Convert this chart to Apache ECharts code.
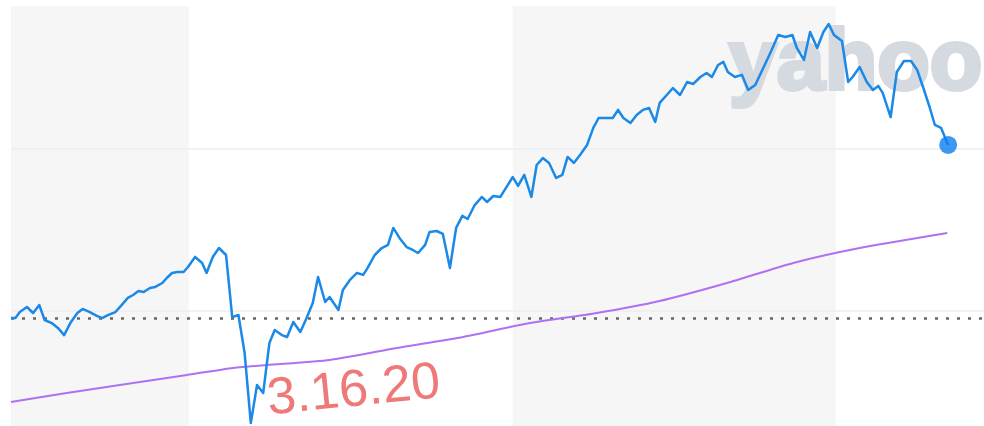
<!DOCTYPE html>
<html><head><meta charset="utf-8">
<script src="https://cdn.jsdelivr.net/npm/echarts@6/dist/echarts.min.js"></script>
<style>html,body{margin:0;padding:0;background:#fff}#c{width:984px;height:426px}</style>
</head><body><div id="c"></div>
<script>
// Start of the range (day 0); days are counted from here
const START_DATE = '2019-06-14';
// S&P 500 weekly path: day offset and close
const priceDays = [0,5,10,18,25,32,38,46,53,60,67,75,81,89,97,103,110,118,125,132,138,144,150,157,163,171,176,182,188,195,200,208,216,221,228,235,243,250,257,264,271,278,285,292,298,306,312,319,327,334,341,347,355,360,370,375,383,391,398,403,411,419,426,432,439,447,454,460,468,473,481,488,496,503,510,516,524,532,538,545,553,560,567,573,580,588,594,601,608,616,623,629,636,643,651,658,664,673,680,686,692,700,707,714,721,728,733,741,748,756,764,771,779,786,792,799,805,810,818,826,833,841,849,858,867,875,883,888,896,903,911,918,924,930,939,946,951,959,967,974,980,985,994,1001,1009,1017,1024,1031,1038,1044,1051,1059];
const priceValues = [2957,2957,2994,3025,2988,3037,2945,2926,2896,2852,2926,2988,3013,2994,2970,2957,2976,2994,3037,3081,3099,3124,3118,3142,3149,3173,3204,3235,3241,3241,3272,3334,3297,3235,3334,3389,3346,2963,2976,2741,2309,2544,2495,2803,2883,2852,2840,2933,2871,2957,3050,3210,3056,3087,3007,3130,3192,3235,3223,3266,3346,3389,3408,3513,3451,3395,3377,3358,3408,3488,3494,3476,3266,3513,3587,3568,3654,3704,3673,3710,3704,3766,3827,3772,3840,3704,3901,3944,3914,3821,3840,3951,3914,3963,4025,4130,4191,4191,4191,4241,4191,4160,4210,4241,4253,4167,4284,4333,4376,4333,4413,4401,4444,4469,4444,4518,4537,4475,4444,4457,4364,4395,4487,4592,4703,4691,4703,4623,4549,4722,4623,4722,4771,4703,4666,4413,4444,4506,4413,4364,4389,4346,4197,4475,4543,4543,4487,4376,4259,4148,4130,4025];
// Comparison (purple) curve
const trendDays = [0,63,138,199,251,289,360,436,511,586,662,733,809,884,959,1058];
const trendValues = [2439,2495,2556,2606,2649,2667,2698,2772,2840,2926,2988,3062,3173,3297,3389,3482];
// Reference levels
const prevClose = 2957;
const gridLevels = [3000, 4000];
// Alternating year shading (ISO dates)
const shadedPeriods = [['2019-06-14','2020-01-01'],['2021-01-01','2022-01-01']];
const axisEndDay = 1099.5;
const yRange = [2291, 4882];
const watermarkText = 'yahoo!';
const noteText = '3.16.20';

const DAY = 86400000;
const t0 = Date.parse(START_DATE + 'T00:00:00Z');
const toT = d => t0 + d * DAY;
const isoT = s => Date.parse(s + 'T00:00:00Z');

const priceData = priceDays.map((d, i) => [toT(d), priceValues[i]]);
const trendData = trendDays.map((d, i) => [toT(d), trendValues[i]]);
const lastPoint = priceData[priceData.length - 1];

const chart = echarts.init(document.getElementById('c'), null, {renderer: 'canvas'});
chart.setOption({
  animation: false,
  backgroundColor: '#ffffff',
  grid: {left: 11, right: 0, top: 6, bottom: 0, containLabel: false},
  xAxis: {type: 'time', min: t0, max: toT(axisEndDay), show: false, splitLine: {show: false}},
  yAxis: {type: 'value', min: yRange[0], max: yRange[1], show: false, splitLine: {show: false}},
  graphic: [
    {type: 'text', z: 3, x: 729, y: 22,
      style: {text: watermarkText, font: 'bold 86px "Liberation Sans", Arial, sans-serif', fill: '#d5d9e0', stroke: '#d5d9e0', lineWidth: 4, verticalAlign: 'top', align: 'left'}},
    {type: 'text', z: 20, x: 270, y: 426, rotation: 0.1,
      style: {text: noteText, font: '52px "Liberation Sans", Arial, sans-serif', fill: 'rgba(236,96,96,0.85)', verticalAlign: 'bottom', align: 'left'}}
  ],
  series: [
    {
      type: 'line', z: 1, data: [], silent: true,
      markArea: {silent: true, itemStyle: {color: 'rgba(0,0,0,0.034)'},
        data: shadedPeriods.map(p => [{xAxis: isoT(p[0])}, {xAxis: isoT(p[1])}])},
      markLine: {silent: true, symbol: 'none', label: {show: false},
        data: gridLevels.map(v => ({yAxis: v, lineStyle: {color: '#eeeeee', width: 1.5, type: 'solid'}}))
          .concat([{yAxis: prevClose, lineStyle: {color: '#666666', width: 2.5, type: [3, 8]}}])}
    },
    {
      type: 'line', z: 8, data: trendData, smooth: 0.2, symbol: 'none',
      lineStyle: {color: '#ad72f2', width: 2}
    },
    {
      type: 'line', z: 10, data: priceData, symbol: 'none',
      lineStyle: {color: '#1a89e8', width: 2.5, join: 'round'}
    },
    {
      type: 'scatter', z: 11, data: [lastPoint], symbolSize: 18,
      itemStyle: {color: '#0b7ef0'}
    }
  ]
});
</script></body></html>
